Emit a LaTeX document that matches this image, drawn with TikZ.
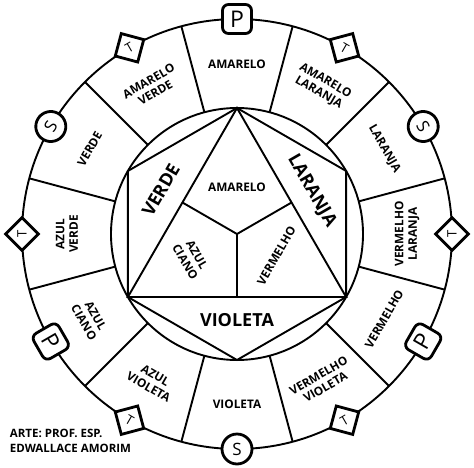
\documentclass[tikz,border=0pt]{standalone}
\usepackage{fontspec}
\setmainfont{Open Sans}
\usetikzlibrary{shapes.geometric}

\begin{document}
\begin{tikzpicture}
  [
   x=1pt,y=1pt,
   line width=1.9pt,
   lab/.style={font=\bfseries\fontsize{11.8}{13.5}\selectfont,align=center,inner sep=0pt},
   big/.style={font=\bfseries\fontsize{18}{20}\selectfont,inner sep=0pt},
   pn/.style={rectangle,rounded corners=6pt,draw,fill=white,line width=2.8pt,minimum size=29pt,inner sep=0pt,font=\fontsize{23}{23}\selectfont},
   sn/.style={circle,draw,fill=white,line width=2.8pt,minimum size=30pt,inner sep=0pt,font=\fontsize{17}{17}\selectfont},
   tn/.style={diamond,aspect=1,draw,fill=white,line width=2.8pt,minimum size=34pt,inner sep=0pt,font=\fontsize{13}{13}\selectfont}
  ]
   \useasboundingbox (-237,-233) rectangle (237,234);

   % wheel
   \draw (0,0) circle (215pt);
   \draw (0,0) circle (126pt);
   \foreach \a in {15,45,...,345} \draw (\a:126pt) -- (\a:215pt);

   % hexagon and triangle
   \coordinate (h1) at (90:126pt);
   \coordinate (h2) at (150:126pt);
   \coordinate (h3) at (210:126pt);
   \coordinate (h4) at (270:126pt);
   \coordinate (h5) at (330:126pt);
   \coordinate (h6) at (30:126pt);
   \coordinate (c) at (0,0);
   \coordinate (m1) at (150:63pt);
   \coordinate (m2) at (30:63pt);
   \coordinate (m3) at (270:63pt);
   \draw (h1) -- (h2) -- (h3) -- (h4) -- (h5) -- (h6) -- cycle;
   \draw (h1) -- (h3) -- (h5) -- cycle;
   \draw (c) -- (m1);
   \draw (c) -- (m2);
   \draw (c) -- (m3);

   % inner labels
   \node[big,rotate=60] (verde) at (150:88pt) {VERDE};
   \node[big,rotate=-60] (laranja) at (30:86pt) {LARANJA};
   \node[big] (violeta) at (270:86pt) {VIOLETA};
   \node[lab] (amarelo) at (90:47pt) {AMARELO};
   \node[lab,rotate=-60] (ciano) at (208:52pt) {AZUL\\CIANO};
   \node[lab,rotate=60] (vermelho) at (331:45pt) {VERMELHO};

   % outer labels
   \node[lab] (s1) at (90:170pt) {AMARELO};
   \node[lab,rotate=-30] (s2) at (60:170pt) {AMARELO\\LARANJA};
   \node[lab,rotate=-60] (s3) at (30:170pt) {LARANJA};
   \node[lab,rotate=90] (s4) at (0:170pt) {VERMELHO\\LARANJA};
   \node[lab,rotate=60] (s5) at (330:170pt) {VERMELHO};
   \node[lab,rotate=30] (s6) at (300:170pt) {VERMELHO\\VIOLETA};
   \node[lab] (s7) at (270:170pt) {VIOLETA};
   \node[lab,rotate=-30] (s8) at (240:170pt) {AZUL\\VIOLETA};
   \node[lab,rotate=-60] (s9) at (210:170pt) {AZUL\\CIANO};
   \node[lab,rotate=90] (s10) at (180:170pt) {AZUL\\VERDE};
   \node[lab,rotate=60] (s11) at (150:170pt) {VERDE};
   \node[lab,rotate=30] (s12) at (120:170pt) {AMARELO\\VERDE};

   % markers
   \node[pn] (p1) at (90:215pt) {P};
   \node[pn,rotate=-60] (p2) at (210:215pt) {P};
   \node[pn,rotate=60] (p3) at (330:215pt) {P};
   \node[sn,rotate=-60] (q1) at (30:215pt) {S};
   \node[sn,rotate=60] (q2) at (150:215pt) {S};
   \node[sn] (q3) at (270:215pt) {S};
   \node[tn,rotate=90] (t1) at (0:215pt) {T};
   \node[tn,rotate=-30] (t2) at (60:215pt) {T};
   \node[tn,rotate=30] (t3) at (120:215pt) {T};
   \node[tn,rotate=90] (t4) at (180:215pt) {T};
   \node[tn,rotate=-30] (t5) at (240:215pt) {T};
   \node[tn,rotate=30] (t6) at (300:215pt) {T};

   \node[lab,align=left,anchor=north west,font=\bfseries\fontsize{11.5}{15}\selectfont] (arte) at (-228,-194) {ARTE: PROF. ESP.\\EDWALLACE AMORIM};

\end{tikzpicture}
\end{document}
